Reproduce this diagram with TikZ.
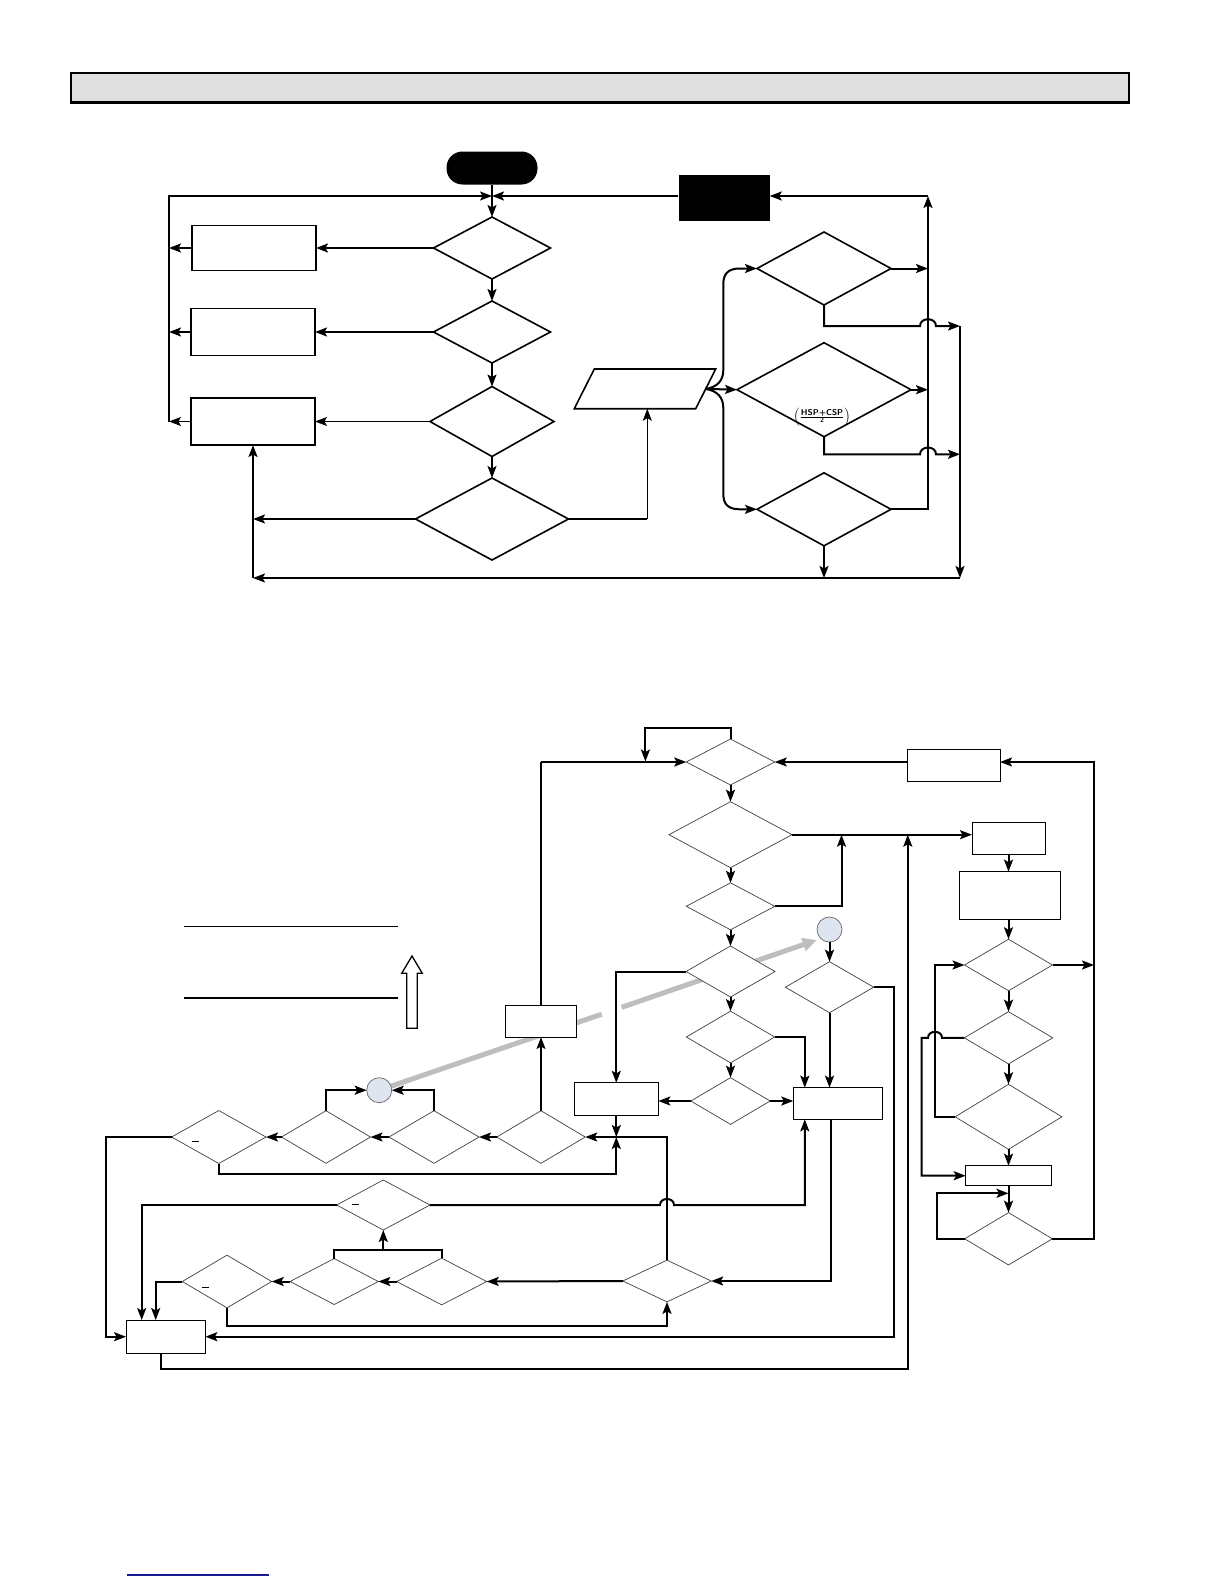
\documentclass[tikz,border=0pt]{standalone}
\usetikzlibrary{shapes.geometric,arrows.meta,backgrounds}
\definecolor{circfill}{RGB}{222,228,240}
\definecolor{greyc}{RGB}{190,190,190}
\definecolor{barfill}{RGB}{223,223,223}
\definecolor{linkblue}{RGB}{25,25,150}
\begin{document}
\begin{tikzpicture}[x=1pt,y=-1pt,
  thk/.style={line width=2pt},
  thn/.style={line width=1.2pt},
  arr/.style={-{Stealth[length=12pt,width=9pt,inset=2.5pt]}},
  udia/.style={draw,diamond,line width=1.6pt,inner sep=0pt,outer sep=0pt,fill=white},
  ubox/.style={draw,rectangle,line width=1.6pt,inner sep=0pt,outer sep=0pt,fill=white},
  ldia/.style={draw=black!75,diamond,line width=0.7pt,inner sep=0pt,outer sep=0pt,fill=white},
  lbox/.style={draw,rectangle,line width=1pt,inner sep=0pt,outer sep=0pt,fill=white},
  circ/.style={draw=black!60,circle,line width=0.7pt,fill=circfill,inner sep=0pt,outer sep=0pt,minimum size=25pt},
  greyl/.style={draw=greyc,line width=5pt}]
\useasboundingbox (0,0) rectangle (1224,1584);

% header bar
\draw[line width=1.2pt,fill=barfill] (71,73) rectangle (1129,103);
\draw[line width=3pt] (70,103) -- (1130,103);

% ===== upper diagram =====
\node[fill=black,rounded corners=16pt,minimum width=91pt,minimum height=33pt,inner sep=0pt] (start) at (492,168) {};
\node[fill=black,minimum width=91pt,minimum height=46pt,inner sep=0pt] (blk) at (724,198) {};
\coordinate (J) at (492,196);
\coordinate (L) at (169,196);
\node[udia,minimum width=117pt,minimum height=62pt] (ud1) at (492,248) {};
\node[udia,minimum width=117pt,minimum height=62pt] (ud2) at (492,332) {};
\node[udia,minimum width=124pt,minimum height=70pt] (ud3) at (492,421.5) {};
\node[udia,minimum width=153pt,minimum height=82pt] (ud4) at (492,519) {};
\node[ubox,minimum width=124pt,minimum height=45pt] (ub1) at (254,248) {};
\node[ubox,minimum width=124pt,minimum height=47pt] (ub2) at (253,332) {};
\node[ubox,minimum width=124pt,minimum height=47pt] (ub3) at (253,421.5) {};
\draw[line width=1.6pt,fill=white] (594.3,369) -- (715.7,369) -- (695.7,408.7) -- (574.3,408.7) -- cycle;
\coordinate (parR) at (705.7,388.9);
\coordinate (parB) at (647.3,408.7);
\node[udia,minimum width=134pt,minimum height=73pt] (uA) at (824,268.5) {};
\node[udia,minimum width=174pt,minimum height=94pt] (uB) at (824,389.7) {};
\node[udia,minimum width=134pt,minimum height=73pt] (uC) at (824,509.3) {};
\node[font=\sffamily\bfseries\fontsize{8.5}{9}\selectfont,inner sep=0pt] (frac) at (822,417)
  {$\left(\frac{\mbox{HSP+CSP}}{\mbox{\fontsize{7}{8}\selectfont 2}}\right)$};

\draw[thk] (start.south) -- (J);
\draw[thk,arr] (J) -- (ud1.north);
\draw[thn,arr] (169,421.5) -- (L) -- (J);
\draw[thk,arr] (blk.west |- J) -- (J);
\draw[thk,arr] (ud1.west) -- (ub1.east);
\draw[thk,arr] (ub1.west) -- (L |- ub1.west);
\draw[thk,arr] (ud1.south) -- (ud2.north);
\draw[thk,arr] (ud2.west) -- (ub2.east);
\draw[thk,arr] (ub2.west) -- (L |- ub2.west);
\draw[thn,arr] (ud2.south) -- (ud3.north);
\draw[thn,arr] (ud3.west) -- (ub3.east);
\draw[thn,arr] (ub3.west) -- (L |- ub3.west);
\draw[thn,arr] (ud3.south) -- (ud4.north);
\draw[thk,arr] (ud4.west) -- (ub3.south |- ud4.west);
\coordinate (UBL) at (253,578);
\coordinate (UBR) at (960,578);
\coordinate (URT) at (960,326);
\draw[thk,arr] (UBL) -- (ub3.south);
\draw[thk,arr] (UBR) -- (UBL);
\draw[thn] (ud4.east) -- (parB |- ud4.east);
\draw[thn,arr] (parB |- ud4.east) -- (parB);
\draw[thk,arr] (parR) -- (uB.west);
\draw[thk,arr] (parR) .. controls (718,387) and (723.3,380) .. (723.3,370) -- (723.3,284) .. controls (723.3,273) and (729,268.5) .. (740,268.5) -- (uA.west);
\draw[thk,arr] (parR) .. controls (718,391) and (723.3,398) .. (723.3,408) -- (723.3,494) .. controls (723.3,505) and (729,509.3) .. (740,509.3) -- (uC.west);
\coordinate (V) at (928,196);
\draw[thk,arr] (uA.east) -- (V |- uA.east);
\draw[thk,arr] (uB.east) -- (V |- uB.east);
\draw[thk,arr] (uC.east) -- (V |- uC.east) -- (V);
\draw[thk,arr] (V) -- (blk.east |- V);
\draw[thk,arr] (uA.south) -- (824,326) -- (920,326) .. controls (920,317) and (936,317) .. (936,326) -- (URT);
\draw[thk,arr] (uB.south) -- (824,454.3) -- (920,454.3) .. controls (920,445.3) and (936,445.3) .. (936,454.3) -- (960,454.3);
\draw[thk,arr] (URT) -- (UBR);
\draw[thk,arr] (uC.south) -- (uC.south |- UBR);

% ===== left text area =====
\draw[thn] (184,926.3) -- (397.7,926.3);
\draw[thn] (184,998) -- (397.7,998);
\draw[line width=1.3pt,fill=white] (406.7,1028.3) -- (406.7,973.3) -- (401.7,973.3) -- (412,956) -- (422.3,973.3) -- (417.3,973.3) -- (417.3,1028.3) -- cycle;

% ===== lower diagram =====
\node[ldia,minimum width=88.5pt,minimum height=46pt] (T1) at (730.5,762) {};
\node[ldia,minimum width=123pt,minimum height=66pt] (T2) at (730.5,834.7) {};
\node[ldia,minimum width=88.5pt,minimum height=47pt] (T3) at (730.5,906.3) {};
\node[ldia,minimum width=89pt,minimum height=51pt] (T4) at (730.5,971.5) {};
\node[ldia,minimum width=88.3pt,minimum height=51.7pt] (T5) at (730.5,1037) {};
\node[ldia,minimum width=79.3pt,minimum height=46.7pt] (T6) at (730.5,1101) {};
\node[lbox,minimum width=93pt,minimum height=32pt] (R1) at (953.5,765) {};
\node[lbox,minimum width=73pt,minimum height=32pt] (R2) at (1008.5,838.3) {};
\node[lbox,minimum width=101pt,minimum height=47.7pt] (R3) at (1009.5,895.5) {};
\node[ldia,minimum width=88pt,minimum height=51.5pt] (R4) at (1008.5,965) {};
\node[ldia,minimum width=88.4pt,minimum height=52.3pt] (R5) at (1008.5,1037.8) {};
\node[ldia,minimum width=106.7pt,minimum height=65pt] (R6) at (1008.5,1116.8) {};
\node[lbox,minimum width=85.7pt,minimum height=20pt] (R7) at (1008.5,1175.7) {};
\node[ldia,minimum width=87.7pt,minimum height=52.3pt] (R8) at (1008.5,1238.8) {};
\node[circ] (C1) at (829.5,929.5) {};
\node[ldia,minimum width=88.3pt,minimum height=51pt] (D5) at (829.5,987.2) {};
\node[lbox,minimum width=84pt,minimum height=32.3pt] (B2) at (616.3,1099) {};
\node[lbox,minimum width=89pt,minimum height=31.7pt] (B3) at (837.8,1103.5) {};
\node[lbox,minimum width=71pt,minimum height=31.7pt] (Bl1) at (541,1021.2) {};
\node[ldia,minimum width=88.4pt,minimum height=52.6pt] (L1) at (541,1137) {};
\node[ldia,minimum width=90pt,minimum height=52.6pt] (L2) at (434,1137) {};
\node[ldia,minimum width=89pt,minimum height=52.6pt] (L3) at (326,1137) {};
\node[ldia,minimum width=94.3pt,minimum height=53pt] (L4) at (218.8,1137) {};
\node[circ] (C2) at (379.2,1090.2) {};
\node[ldia,minimum width=93.3pt,minimum height=50pt] (L5) at (383.3,1205) {};
\node[ldia,minimum width=90pt,minimum height=46.7pt] (L6) at (441.7,1281.5) {};
\node[ldia,minimum width=88.3pt,minimum height=46pt] (L7) at (334.2,1281.5) {};
\node[ldia,minimum width=89.4pt,minimum height=52.7pt] (L8) at (227,1281.5) {};
\node[ldia,minimum width=88.4pt,minimum height=41.7pt] (M) at (667,1281) {};
\node[lbox,minimum width=79.3pt,minimum height=33.3pt] (BL) at (165.7,1336.7) {};

\begin{pgfonlayer}{background}
\fill[white] (0,0) rectangle (1224,1584);
\draw[greyl] (C2.center) -- (601.7,1014.2);
\draw[greyl,-{Triangle[length=14pt,width=13pt]}] (621.7,1007.3) -- (816.7,940);
\end{pgfonlayer}

% small marks
\draw[line width=0.9pt] (191.5,1141) -- (198.5,1141);
\draw[line width=0.9pt] (351.5,1204) -- (358.5,1204);
\draw[line width=0.9pt] (202,1287.3) -- (209,1287.3);

\draw[thk,arr] (T1.north) -- ++(0,-11.3) -| (645.4,761.5);
\draw[thn] (Bl1.north) -- (Bl1.north |- T1.west);
\draw[thk,arr] (Bl1.north |- T1.west) -- (T1.west);
\draw[thk,arr] (R1.west |- T1.east) -- (T1.east);
\coordinate (RR) at (1094,762);
\draw[thk,arr] (R8.east) -- (RR |- R8.east) -- (RR) -- (R1.east |- RR);
\draw[thk,arr] (T1.south) -- (T2.north);
\draw[thk,arr] (T2.east) -- (R2.west |- T2.east);
\draw[thk,arr] (T2.south) -- (T3.north);
\draw[thk,arr] (T3.east) -| (841.5,834.7);
\draw[thk,arr] (T3.south) -- (T4.north);
\draw[thk,arr] (C1.south) -- (D5.north);
\draw[thk,arr] (T4.west) -| (B2.north);
\draw[thk,arr] (T4.south) -- (T5.north);
\draw[thk,arr] (T5.east) -| ([xshift=-33pt]B3.north);
\draw[thk,arr] (T5.south) -- (T6.north);
\draw[thk,arr] (T6.west) -- (B2.east |- T6.west);
\draw[thk,arr] (T6.east) -- (B3.west |- T6.east);
\draw[thk,arr] (D5.south) -- (D5.south |- B3.north);
\draw[thk,arr] (D5.east) -- (894,987.2) |- (BL.east);
\draw[thk,arr] ([xshift=-5pt]BL.south) |- (907.8,1369) -- (907.8,834.7);
\draw[thn,arr] (L1.north) -- (Bl1.south);
\draw[thk,arr] (L1.west) -- (L2.east);
\draw[thk,arr] (L2.west) -- (L3.east);
\draw[thk,arr] (L3.west) -- (L4.east);
\draw[thk,arr] (L2.north) |- (C2.east);
\draw[thk,arr] (L3.north) |- (C2.west);
\draw[thk,arr] (L4.west) -- ++(-66,0) |- (BL.west);
\draw[thk,arr] (L4.south) -- ++(0,10.5) -| (616.3,1137);
\draw[thk,arr] (B2.south) -- (B2.south |- L1.east);
\draw[thk,arr] (M.north) |- (L1.east);
\draw[thk,arr] ([xshift=-7pt]B3.south) |- (M.east);
\draw[thk,arr] (L5.east) -- (660,1205) .. controls (660,1197) and (674,1197) .. (674,1205) -| ([xshift=-33pt]B3.south);
\draw[thk,arr] (M.west) -- (L6.east);
\draw[thk,arr] (L6.west) -- (L7.east);
\draw[thk,arr] (L7.west) -- (L8.east);
\draw[thk,arr] (L8.west) -| ([xshift=-10pt]BL.north);
\draw[thk,arr] (L5.west) -| ([xshift=-24pt]BL.north);
\draw[thk,arr] (L8.south) -- ++(0,18) -| (M.south);
\draw[thk] (L7.north) -- ++(0,-8.6) -| (L6.north);
\coordinate (bar) at (383.3,1250.7);
\draw[thk,arr] (bar) -- (L5.south);

\draw[thk,arr] (R2.south) -- (R2.south |- R3.north);
\draw[thk,arr] (R3.south -| R4.north) -- (R4.north);
\draw[thk,arr] (R4.east) -- (RR |- R4.east);
\draw[thk,arr] (R4.south) -- (R5.north);
\draw[thk,arr] (R5.south) -- (R6.north);
\draw[thk,arr] (R6.south) -- (R7.north);
\draw[thk,arr] (R7.south) -- (R8.north);
\draw[thk,arr] (R6.west) -- (935,1116.8) |- (R4.west);
\draw[thk,arr] (R5.west) -- (942,1037.8) .. controls (942,1029.8) and (928,1029.8) .. (928,1037.8) -- (921.7,1037.8) |- (R7.west);
\draw[thk,arr] (R8.west) -- (936.7,1238.8) |- (1008.5,1193.3);

% link underline
\draw[line width=1.3pt,color=linkblue] (126.7,1575) -- (269,1575);
\end{tikzpicture}
\end{document}
